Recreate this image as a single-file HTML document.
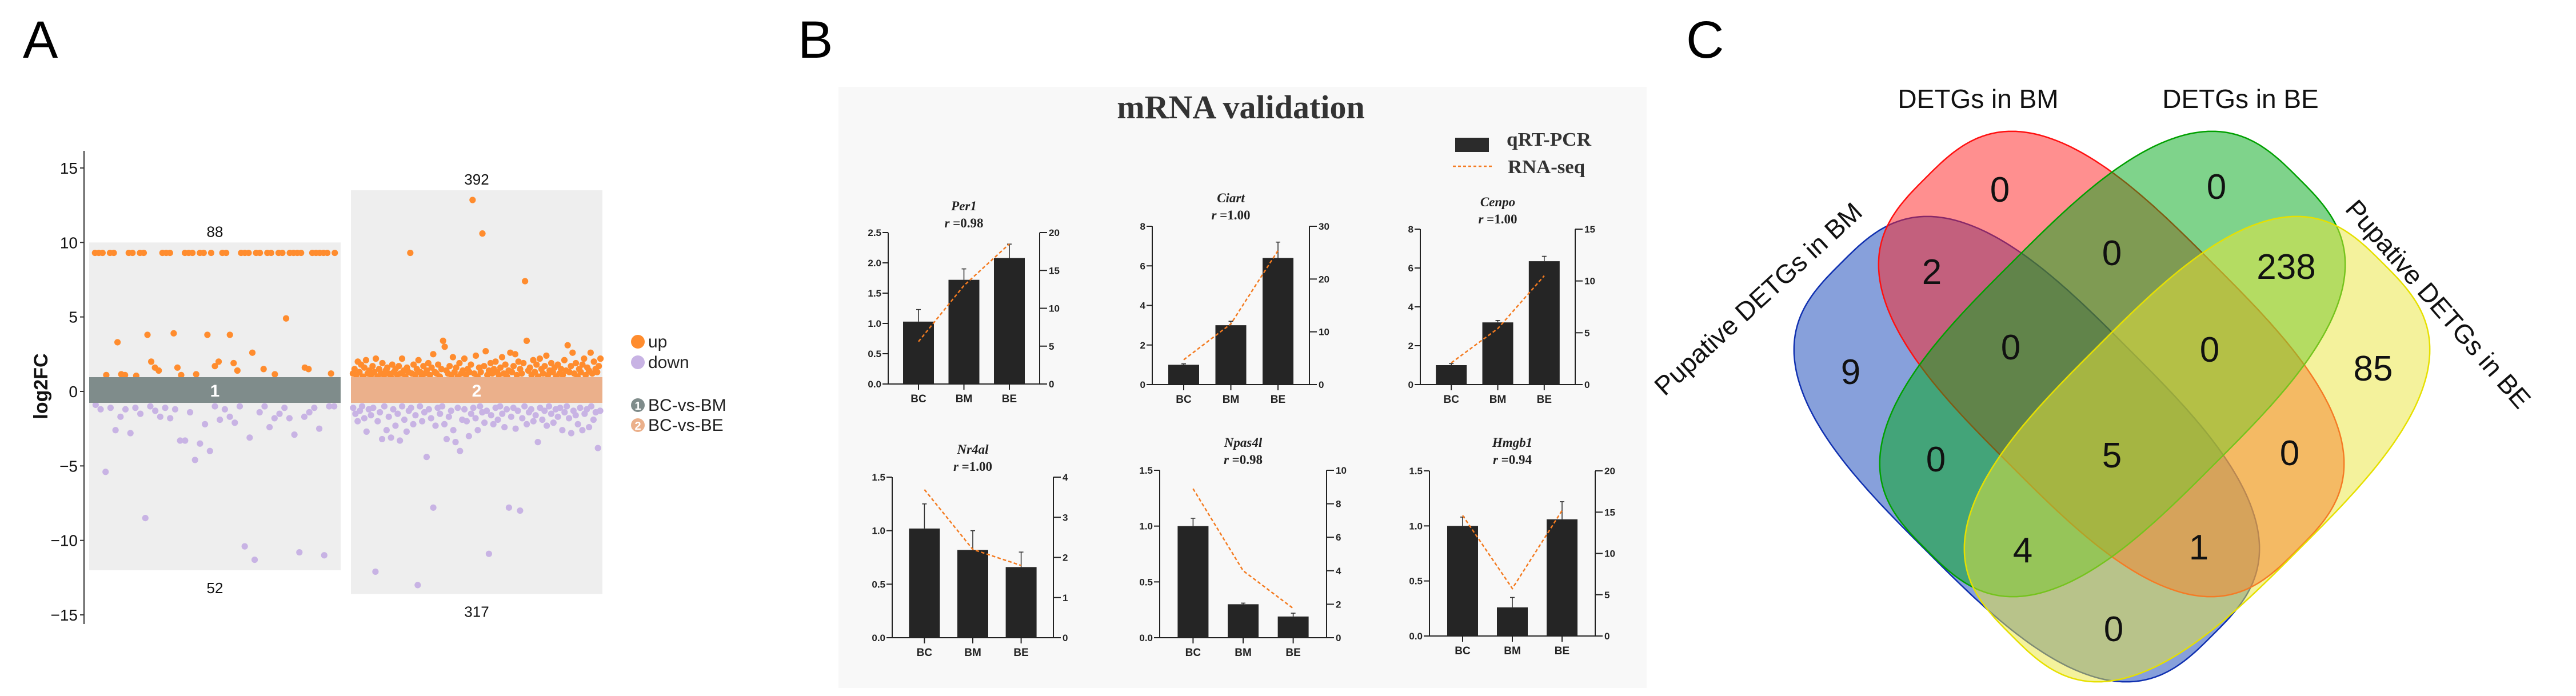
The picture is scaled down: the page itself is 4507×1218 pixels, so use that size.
<!DOCTYPE html>
<html><head><meta charset="utf-8"><style>
html,body{margin:0;padding:0;background:#fff;overflow:hidden;width:4507px;height:1218px;}
svg{display:block;}
</style></head><body>
<svg id="fig" xmlns="http://www.w3.org/2000/svg" width="4507" height="1218" viewBox="0 0 4507 1218">
<rect x="0" y="0" width="4507" height="1218" fill="#fff"/>
<g id="panelA"></g>
<g id="panelB"></g>
<g id="panelC"></g>
</svg>
<script>
// ---------- Panel A data ----------
const aYTicks = [15, 10, 5, 0, -5, -10, -15];
const aYTickLabels = ["15", "10", "5", "0", "\u22125", "\u221210", "\u221215"];
const aGroups = ["1", "2"];
const aGroupNames = ["BC-vs-BM", "BC-vs-BE"];
const aUpCounts = ["88", "392"];
const aDownCounts = ["52", "317"];
const aBgTop = [10, 13.5];
const aBgBottom = [-12, -13.6];
const p1Up = [9.3,9.3,9.3,1.1,9.3,9.3,3.3,1.15,1.1,9.3,9.3,1.05,9.3,9.3,3.8,2.0,1.6,1.4,9.3,9.3,9.3,3.9,1.6,1.1,9.3,9.3,9.3,1.15,9.3,9.3,3.8,9.3,1.7,2.0,9.3,9.3,3.8,1.9,1.4,9.3,9.3,9.3,2.6,9.3,9.3,1.5,9.3,9.3,1.15,9.3,9.3,4.9,9.3,9.3,9.3,9.3,1.6,1.5,9.3,9.3,9.3,9.3,9.3,1.2,9.3];
const p1Down = [-0.9,-1.2,-5.4,-1.1,-2.6,-1.7,-1.2,-2.8,-1.1,-1.5,-8.5,-1.0,-1.3,-1.7,-1.1,-1.8,-1.2,-3.3,-3.3,-1.4,-4.6,-3.5,-2.2,-4.0,-1.0,-1.9,-1.2,-1.7,-2.1,-1.0,-10.4,-3.1,-11.3,-1.4,-1.0,-2.4,-1.8,-1.5,-1.1,-1.8,-2.9,-10.8,-1.7,-1.4,-1.1,-2.5,-11.0,-1.0,-1.0];
const p2Up = [1.2,1.5,1.1,2.0,1.3,1.8,1.0,1.6,2.1,1.2,1.4,1.1,1.7,1.3,2.2,1.0,1.5,1.2,1.9,1.1,
1.4,1.6,1.2,1.0,1.8,1.3,1.5,1.1,1.7,1.2,2.2,1.4,1.0,1.6,1.3,9.3,1.2,1.8,1.1,1.5,
2.1,1.3,1.0,1.7,1.2,1.4,1.9,1.1,1.6,2.5,1.3,1.2,1.8,1.0,1.5,3.4,3.0,1.4,1.2,1.7,
1.1,2.3,1.3,1.6,1.0,1.9,1.2,1.4,2.2,1.1,1.5,1.3,1.8,12.85,1.2,2.4,1.0,1.6,1.3,10.6,
1.7,2.7,1.1,1.4,1.9,1.2,1.5,2.0,1.3,1.1,1.6,2.3,1.2,1.8,1.0,1.4,2.6,1.3,1.7,2.5,
1.1,2.0,1.5,1.2,1.9,7.4,3.4,1.4,1.6,1.1,2.1,1.3,1.8,1.0,2.2,1.5,1.2,1.7,2.4,1.1,
1.4,1.9,1.3,1.6,1.0,1.8,1.2,1.5,1.1,2.1,1.4,3.1,1.3,1.7,2.6,1.2,1.9,1.0,1.5,1.3,
1.8,2.2,1.1,1.6,1.4,2.6,1.2,2.0,1.5,1.3,1.7,2.2];
const p2Down = [-1.1,-1.5,-2.0,-1.3,-1.0,-1.8,-2.7,-1.2,-1.6,-1.1,-12.1,-2.0,-1.4,-3.2,-1.0,-2.6,-1.7,-3.1,-1.2,-2.3,
-1.5,-3.3,-1.0,-1.9,-2.7,-1.3,-1.1,-2.2,-1.6,-13.0,-1.0,-2.0,-1.4,-4.4,-1.2,-1.8,-7.8,-2.3,-1.1,-1.5,
-1.0,-2.2,-3.2,-1.7,-1.3,-2.6,-3.4,-1.1,-4.0,-1.9,-1.2,-2.0,-3.0,-1.5,-1.1,-1.8,-2.6,-1.0,-1.4,-2.1,
-1.3,-10.9,-1.6,-2.2,-1.1,-1.9,-1.0,-1.5,-2.4,-1.2,-7.8,-1.7,-1.1,-2.5,-1.3,-8.0,-1.8,-1.0,-2.2,-1.4,
-1.2,-2.0,-1.6,-3.4,-1.1,-1.9,-1.3,-2.3,-1.0,-1.5,-2.1,-1.2,-1.7,-1.1,-2.6,-1.4,-1.0,-1.8,-2.8,-1.3,
-1.6,-2.2,-1.1,-2.6,-1.5,-1.2,-2.4,-1.0,-1.9,-1.4,-3.8,-1.3];

// ---------- Panel B data ----------
const bGenes = ["Per1", "Ciart", "Cenpo", "Nr4al", "Npas4l", "Hmgb1"];
const bR = ["0.98", "1.00", "1.00", "1.00", "0.98", "0.94"];
const bCats = ["BC", "BM", "BE"];
const bQpcr = [[1.03,1.72,2.08],[1.0,3.0,6.4],[1.0,3.2,6.35],[1.02,0.82,0.66],[1.0,0.3,0.19],[1.0,0.26,1.06]];
const bErr = [[0.2,0.18,0.23],[0.05,0.2,0.8],[0.08,0.1,0.25],[0.23,0.18,0.14],[0.07,0.01,0.03],[0.08,0.09,0.16]];
const bRnaseq = [[5.6,13.0,18.5],[4.7,11.5,25.4],[2.1,5.4,10.5],[3.69,2.2,1.8],[8.9,4.0,1.75],[14.6,5.75,15.2]];
const bLeftMax = [2.5, 8, 8, 1.5, 1.5, 1.5];
const bLeftStep = [0.5, 2, 2, 0.5, 0.5, 0.5];
const bLeftDec = [1, 0, 0, 1, 1, 1];
const bRightMax = [20, 30, 15, 4, 10, 20];
const bRightStep = [5, 10, 5, 1, 2, 5];

// ---------- Panel C data ----------
const cSetNames = ["Pupative DETGs in BM", "DETGs in BM", "DETGs in BE", "Pupative DETGs in BE"];
const cCounts = ["0","0","2","0","238","9","0","0","85","0","5","0","4","1","0"];

const NS = "http://www.w3.org/2000/svg";
function mk(parent, tag, attrs, text) {
  const e = document.createElementNS(NS, tag);
  for (const k in attrs) e.setAttribute(k, attrs[k]);
  if (text !== undefined) e.textContent = text;
  parent.appendChild(e);
  return e;
}
const SANS = '"Liberation Sans", Arial, sans-serif';
const SERIF = '"Liberation Serif", "Times New Roman", serif';

// ================= PANEL A =================
(function () {
  const g = document.getElementById('panelA');
  let t = mk(g, 'text', {x: 40, y: 101, 'font-family': SANS, 'font-size': 92, fill: '#000'}, 'A');
  
  
  const y0 = 685, k = 26.07;
  const yA = v => y0 - v * k;
  const pL = [156, 614], pW = 440;
  for (let i = 0; i < 2; i++) {
    const r = mk(g, 'rect', {x: pL[i], y: yA(aBgTop[i]), width: pW, height: yA(aBgBottom[i]) - yA(aBgTop[i]), fill: '#eeeeee'});
    
    
  }
  const series = [[p1Up, p1Down], [p2Up, p2Down]];
  const xpad = [5, 0];
  for (let i = 0; i < 2; i++) {
    const [up, dn] = series[i];
    [[dn, '#c8b3e4', 'down'], [up, '#ff8c2e', 'up']].forEach(([arr, col, nm]) => {
      const x0 = pL[i] + xpad[i] + 2, w = pW - 2 * xpad[i] - 4;
      arr.forEach((v, j) => {
        const c = mk(g, 'circle', {cx: x0 + (j + 0.5) / arr.length * w, cy: yA(v), r: 5.6, fill: col});
        
        
      });
    });
  }
  const bandCol = ['#7f8c8b', '#ebb08b'];
  for (let i = 0; i < 2; i++) {
    const b = mk(g, 'rect', {x: pL[i], y: 660, width: pW, height: 45, fill: bandCol[i]});
    
    
    const tl = mk(g, 'text', {x: pL[i] + pW / 2, y: 694, 'text-anchor': 'middle', 'font-family': SANS, 'font-weight': 'bold', 'font-size': 30, fill: '#fff'}, aGroups[i]);
    
    
    const u = mk(g, 'text', {x: pL[i] + pW / 2, y: yA(aBgTop[i]) - 10, 'text-anchor': 'middle', 'font-family': SANS, 'font-size': 26, fill: '#111'}, aUpCounts[i]);
    
    
    const d = mk(g, 'text', {x: pL[i] + pW / 2, y: yA(aBgBottom[i]) + 40, 'text-anchor': 'middle', 'font-family': SANS, 'font-size': 26, fill: '#111'}, aDownCounts[i]);
    
    
  }
  const ax = mk(g, 'line', {x1: 147, y1: 264, x2: 147, y2: 1092, stroke: '#333', 'stroke-width': 2});
  
  
  aYTicks.forEach((v, i) => {
    const tk = mk(g, 'line', {x1: 140, y1: yA(v), x2: 147, y2: yA(v), stroke: '#333', 'stroke-width': 2});
    
    
    const tl = mk(g, 'text', {x: 136, y: yA(v) + 10, 'text-anchor': 'end', 'font-family': SANS, 'font-size': 28, fill: '#111'}, aYTickLabels[i]);
    
    
  });
  const yt = mk(g, 'text', {x: 0, y: 0, transform: 'translate(83,676) rotate(-90)', 'text-anchor': 'middle', 'font-family': SANS, 'font-weight': 'bold', 'font-size': 34, fill: '#111'}, 'log2FC');
  
  
  const leg = [['#ff8c2e', 'up', 598], ['#c8b3e4', 'down', 634]];
  leg.forEach(([c, s, y]) => {
    const ci = mk(g, 'circle', {cx: 1116, cy: y, r: 12, fill: c});
    
    
    const tx = mk(g, 'text', {x: 1134, y: y + 10, 'font-family': SANS, 'font-size': 30, fill: '#222'}, s);
    
    
  });
  [[709, 0], [744, 1]].forEach(([y, i]) => {
    const ci = mk(g, 'circle', {cx: 1116, cy: y, r: 12, fill: bandCol[i]});
    
    
    const n = mk(g, 'text', {x: 1116, y: y + 8, 'text-anchor': 'middle', 'font-family': SANS, 'font-weight': 'bold', 'font-size': 20, fill: '#fff'}, aGroups[i]);
    
    
    const tx = mk(g, 'text', {x: 1134, y: y + 10, 'font-family': SANS, 'font-size': 30, fill: '#222'}, aGroupNames[i]);
    
    
  });
})();

// ================= PANEL B =================
(function () {
  const g = document.getElementById('panelB');
  let t = mk(g, 'text', {x: 1396, y: 101, 'font-family': SANS, 'font-size': 92, fill: '#000'}, 'B');
  
  
  const bg = mk(g, 'rect', {x: 1467, y: 152, width: 1414, height: 1052, fill: '#f8f8f8'});
  
  
  const title = mk(g, 'text', {x: 2171, y: 207, 'text-anchor': 'middle', 'font-family': SERIF, 'font-weight': 'bold', 'font-size': 58, fill: '#333'}, 'mRNA validation');
  
  
  const lb = mk(g, 'rect', {x: 2546, y: 241, width: 59, height: 25, fill: '#2b2b2b'});
  
  
  const l1 = mk(g, 'text', {x: 2636, y: 255, 'font-family': SERIF, 'font-weight': 'bold', 'font-size': 34, fill: '#333', textLength: 148, lengthAdjust: 'spacingAndGlyphs'}, 'qRT-PCR');
  
  
  const ll = mk(g, 'line', {x1: 2542, y1: 291, x2: 2611, y2: 291, stroke: '#f47b20', 'stroke-width': 2.5, 'stroke-dasharray': '5,4'});
  
  
  const l2 = mk(g, 'text', {x: 2638, y: 303, 'font-family': SERIF, 'font-weight': 'bold', 'font-size': 34, fill: '#333', textLength: 135, lengthAdjust: 'spacingAndGlyphs'}, 'RNA-seq');
  
  

  const L = [1554, 2016, 2485, 1561, 2029, 2501];
  const R = [1819, 2291, 2756, 1843, 2321, 2791];
  const T = [407, 396, 401, 835, 823, 824];
  const B = [672, 673, 673, 1116, 1116, 1113];
  const TY = [368, 354, 361, 794, 782, 782];
  const fr = [0.2, 0.5, 0.8];
  for (let c = 0; c < 6; c++) {
    const cg = mk(g, 'g', {});
    
    
    const yl = v => B[c] - v / bLeftMax[c] * (B[c] - T[c]);
    const yr = v => B[c] - v / bRightMax[c] * (B[c] - T[c]);
    const xc = i => L[c] + fr[i] * (R[c] - L[c]);
    const cx = (L[c] + R[c]) / 2;
    const gt = mk(cg, 'text', {x: cx, y: TY[c], 'text-anchor': 'middle', 'font-family': SERIF, 'font-weight': 'bold', 'font-style': 'italic', 'font-size': 23, fill: '#222'}, bGenes[c]);
    
    
    const rt = mk(cg, 'text', {x: cx, y: TY[c] + 30, 'text-anchor': 'middle', 'font-family': SERIF, 'font-weight': 'bold', 'font-size': 23, fill: '#222'});
    
    
    mk(rt, 'tspan', {'font-style': 'italic'}, 'r');
    mk(rt, 'tspan', {}, ' =' + bR[c]);
    for (let i = 0; i < 3; i++) {
      const v = bQpcr[c][i];
      const br = mk(cg, 'rect', {x: xc(i) - 27, y: yl(v), width: 54, height: B[c] - yl(v), fill: '#252525'});
      
      
      const eb = mk(cg, 'path', {d: `M${xc(i)},${yl(v)}V${yl(v + bErr[c][i])}M${xc(i) - 4},${yl(v + bErr[c][i])}H${xc(i) + 4}`, stroke: '#333', 'stroke-width': 1.6, fill: 'none'});
      
      
    }
    const ax = mk(cg, 'path', {d: `M${L[c]},${T[c]}V${B[c]}H${R[c]}V${T[c]}`, stroke: '#222', 'stroke-width': 2, fill: 'none'});
    
    
    for (let v = 0; v <= bLeftMax[c] + 1e-9; v += bLeftStep[c]) {
      const tk = mk(cg, 'line', {x1: L[c] - 10, y1: yl(v), x2: L[c], y2: yl(v), stroke: '#222', 'stroke-width': 2});
      
      
      const tl = mk(cg, 'text', {x: L[c] - 12, y: yl(v) + 6, 'text-anchor': 'end', 'font-family': SANS, 'font-weight': 'bold', 'font-size': 17, fill: '#222'}, v.toFixed(bLeftDec[c]));
      
      
    }
    for (let v = 0; v <= bRightMax[c] + 1e-9; v += bRightStep[c]) {
      const tk = mk(cg, 'line', {x1: R[c], y1: yr(v), x2: R[c] + 13, y2: yr(v), stroke: '#222', 'stroke-width': 2});
      
      
      const tl = mk(cg, 'text', {x: R[c] + 16, y: yr(v) + 6, 'font-family': SANS, 'font-weight': 'bold', 'font-size': 17, fill: '#222'}, String(v));
      
      
    }
    for (let i = 0; i < 3; i++) {
      const tk = mk(cg, 'line', {x1: xc(i), y1: B[c], x2: xc(i), y2: B[c] + 10, stroke: '#222', 'stroke-width': 2});
      
      
      const tl = mk(cg, 'text', {x: xc(i), y: B[c] + 32, 'text-anchor': 'middle', 'font-family': SANS, 'font-weight': 'bold', 'font-size': 19, fill: '#222'}, bCats[i]);
      
      
    }
    const pts = bRnaseq[c].map((v, i) => `${xc(i)},${yr(v)}`).join(' ');
    const pl = mk(cg, 'polyline', {points: pts, fill: 'none', stroke: '#f47b20', 'stroke-width': 2.5, 'stroke-dasharray': '6,4'});
    
    
  }
})();

// ================= PANEL C =================
(function () {
  const g = document.getElementById('panelC');
  let t = mk(g, 'text', {x: 2950, y: 101, 'font-family': SANS, 'font-size': 92, fill: '#000'}, 'C');
  
  
  // superellipse outline, local coords (u along axis)
  const SA = 460, SB = 250, SN = 3;
  const sp = [];
  for (let i = 0; i < 360; i++) {
    const a = i * Math.PI / 180, c = Math.cos(a), s = Math.sin(a);
    sp.push([SA * Math.sign(c) * Math.pow(Math.abs(c), 2 / SN), SB * Math.sign(s) * Math.pow(Math.abs(s), 2 / SN)]);
  }
  const dPath = 'M' + sp.map(p => p[0].toFixed(1) + ',' + p[1].toFixed(1)).join('L') + 'Z';
  const caps = [
    [3546, 786, 45, '#0f41b8', '#1030b0', 'set-pupative-bm'],
    [3694, 637, 45, '#ff1f1f', '#ff1010', 'set-detgs-bm'],
    [3696, 637, -45, '#00a818', '#00a000', 'set-detgs-be'],
    [3844, 786, -45, '#e9e539', '#e6e000', 'set-pupative-be']
  ];
  caps.forEach(([mx, my, ang, fc, sc, nm]) => {
    const e = mk(g, 'path', {d: dPath, transform: `translate(${mx},${my}) rotate(${ang})`, fill: fc, 'fill-opacity': 0.5, stroke: sc, 'stroke-width': 2.5});
    
    
  });
  const pos = [[3499,330],[3878,325],[3380,474],[3695,441],[4000,465],[3238,649],[3518,606],[3866,610],[4152,643],[3387,802],[3695,795],[4006,791],[3539,961],[3847,956],[3698,1099]];
  cCounts.forEach((s, i) => {
    const tx = mk(g, 'text', {x: pos[i][0], y: pos[i][1] + 23, 'text-anchor': 'middle', 'font-family': SANS, 'font-size': 62, fill: '#111'}, s);
    
    
  });
  const s1 = mk(g, 'text', {x: 3461, y: 189, 'text-anchor': 'middle', 'font-family': SANS, 'font-size': 46, fill: '#111'}, cSetNames[1]);
  
  
  const s2 = mk(g, 'text', {x: 3920, y: 189, 'text-anchor': 'middle', 'font-family': SANS, 'font-size': 46, fill: '#111'}, cSetNames[2]);
  
  
  const s0 = mk(g, 'text', {x: 0, y: 16, transform: 'translate(3076,523) rotate(-42.5)', 'text-anchor': 'middle', 'font-family': SANS, 'font-size': 46, fill: '#111'}, cSetNames[0]);
  
  
  const s3 = mk(g, 'text', {x: 0, y: 16, transform: 'translate(4266,532) rotate(49)', 'text-anchor': 'middle', 'font-family': SANS, 'font-size': 46, fill: '#111'}, cSetNames[3]);
  
  
})();
</script>
</body></html>
